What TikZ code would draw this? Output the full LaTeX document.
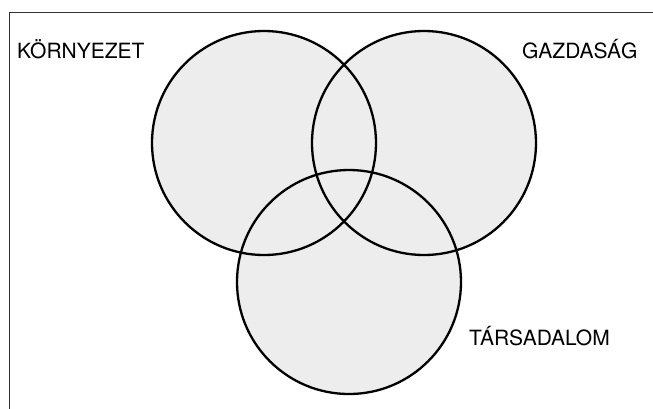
\documentclass[tikz,border=0pt]{standalone}
\usepackage{fontspec}
\setmainfont{TeX Gyre Heros}
\usetikzlibrary{positioning}

\begin{document}
\begin{tikzpicture}[x=1pt,y=-1pt]
					\useasboundingbox (0,0) rectangle (653,408);
					%Frame
					\draw[line width=1.3pt, black!80] (9.5,420) -- (9.5,12.5) -- (660,12.5);

					%Nodes
					\coordinate      (korny) 	at 	(264,143);
					\coordinate      (gazd) 	at 	(424,143);
					\coordinate      (tars) 	at 	(349,282);

					%Circles
					\fill[black!7] (korny) circle (112pt);
					\fill[black!7] (gazd) circle (112pt);
					\fill[black!7] (tars) circle (112pt);
					\draw[line width=2.3pt] (korny) circle (112pt);
					\draw[line width=2.3pt] (gazd) circle (112pt);
					\draw[line width=2.3pt] (tars) circle (112pt);

					%Labels
					\node[anchor=base west, inner sep=0pt, font=\fontsize{21}{25}\selectfont] (lkorny) at (17,58) {KÖRNYEZET};
					\node[anchor=base west, inner sep=0pt, font=\fontsize{21}{25}\selectfont] (lgazd) at (522,58) {GAZDASÁG};
					\node[anchor=base west, inner sep=0pt, font=\fontsize{21}{25}\selectfont] (ltars) at (469,345) {TÁRSADALOM};

				\end{tikzpicture}
\end{document}
